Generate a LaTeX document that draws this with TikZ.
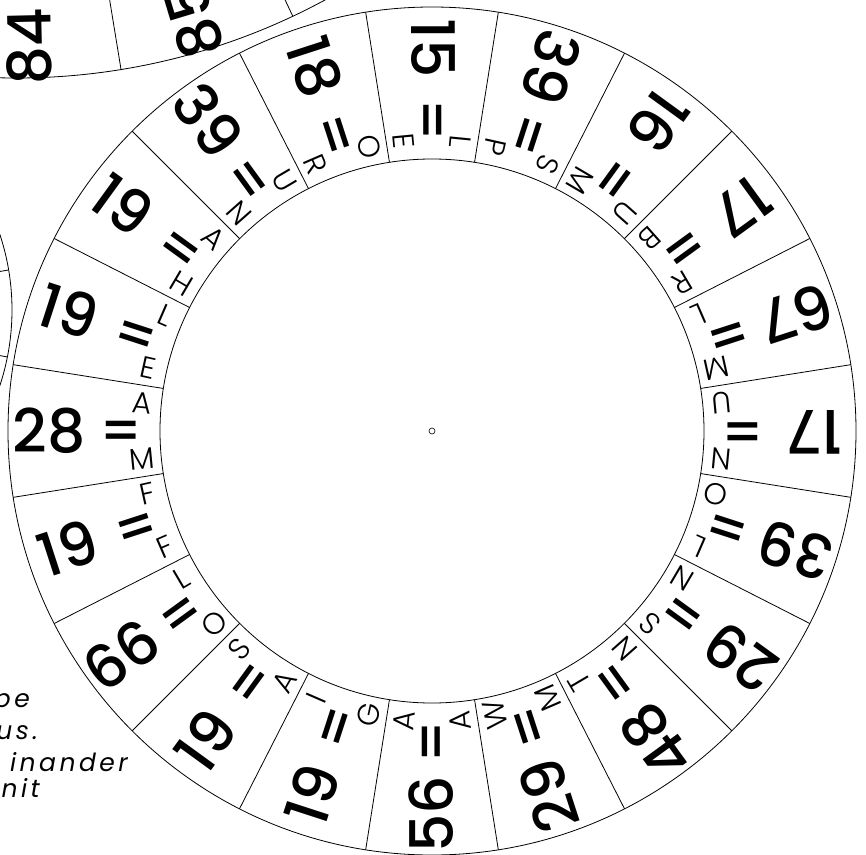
\documentclass[tikz,border=0pt]{standalone}
\usepackage{fontspec}
\setmainfont{Poppins}
\newfontfamily\letfont{Poppins Light}
\newfontfamily\numfont{Poppins Medium}
\usetikzlibrary{calc}

\begin{document}
\begin{tikzpicture}[x=1pt, y=1pt,
    ring/.style={line width=0.8pt},
    numtxt/.style={font=\numfont\fontsize{60}{60}\selectfont, text height=42pt, text depth=0pt, inner sep=0pt},
    eqtxt/.style={font=\numfont\fontsize{56}{56}\selectfont, text height=39pt, text depth=0pt, inner sep=0pt},
    lettxt/.style={font=\letfont\fontsize{30}{30}\selectfont, text height=21pt, text depth=0pt, inner sep=0pt},
    notetxt/.style={font=\itshape\addfontfeatures{LetterSpace=14}\fontsize{25}{30}\selectfont, anchor=base east, inner sep=0pt}]
    \useasboundingbox (-432,-423) rectangle (434,431);
    \clip (-432,-423) rectangle (434,431);

    % چرخ‌های کناری
    \draw[ring] (-416,1003) circle[radius=650];
    \foreach \a in {-80.7,-64.8} {
        \draw[ring] (-416,1003) ++(\a:560) -- ++(\a:90);
    }
    \node[numtxt, rotate=91.3] (m84) at ($(-416,1003)+(-88.7:619)$) {84};
    \node[numtxt, rotate=106.8] (m85) at ($(-416,1003)+(-73.2:618)$) {85};
    \draw[ring] (-660,121) circle[radius=240];
    \foreach \a in {9.6,-11.3} {
        \draw[ring] (-660,121) ++(\a:215) -- ++(\a:25);
    }

    % چرخ اصلی
    \draw[ring] (0,0) circle[radius=272];
    \draw[ring] (0,0) circle[radius=424];
    \draw[line width=0.6pt] (0,0) circle[radius=3];
    \foreach \k in {0,...,19} {
        \draw[ring] ({9+18*\k}:272) -- ({9+18*\k}:424);
    }

    % اعداد
    \foreach \n [count=\k from 0] in {15,39,16,17,67,17,39,29,48,29,56,19,19,66,19,28,19,19,39,18} {
        \pgfmathsetmacro\ang{90-18*\k}
        \node[numtxt, rotate=\ang+180] (n\k) at (\ang:383) {\n};
        \node[eqtxt, rotate=\ang+180] (e\k) at (\ang:311) {=};
    }

    % حروف
    \foreach \a/\b [count=\k from 0] in {E/L, P/S, M/U, B/R, L/M, U/N, O/L, N/S, N/T, M/W,
                                        A/A, G/I, A/S, O/L, F/F, M/A, E/L, H/A, N/U, R/O} {
        \pgfmathsetmacro\ang{90-18*\k}
        \node[lettxt, rotate=\ang+185.5] (la\k) at ({\ang+5.5}:291) {\a};
        \node[lettxt, rotate=\ang+174.5] (lb\k) at ({\ang-5.5}:291) {\b};
    }

    % متن
    \node[notetxt] (t1) at (-402,-276) {pe};
    \node[notetxt] (t2) at (-394,-308) {us.};
    \node[notetxt] (t3) at (-304,-340) {inander};
    \node[notetxt] (t4) at (-392,-366) {nit};
\end{tikzpicture}
\end{document}
